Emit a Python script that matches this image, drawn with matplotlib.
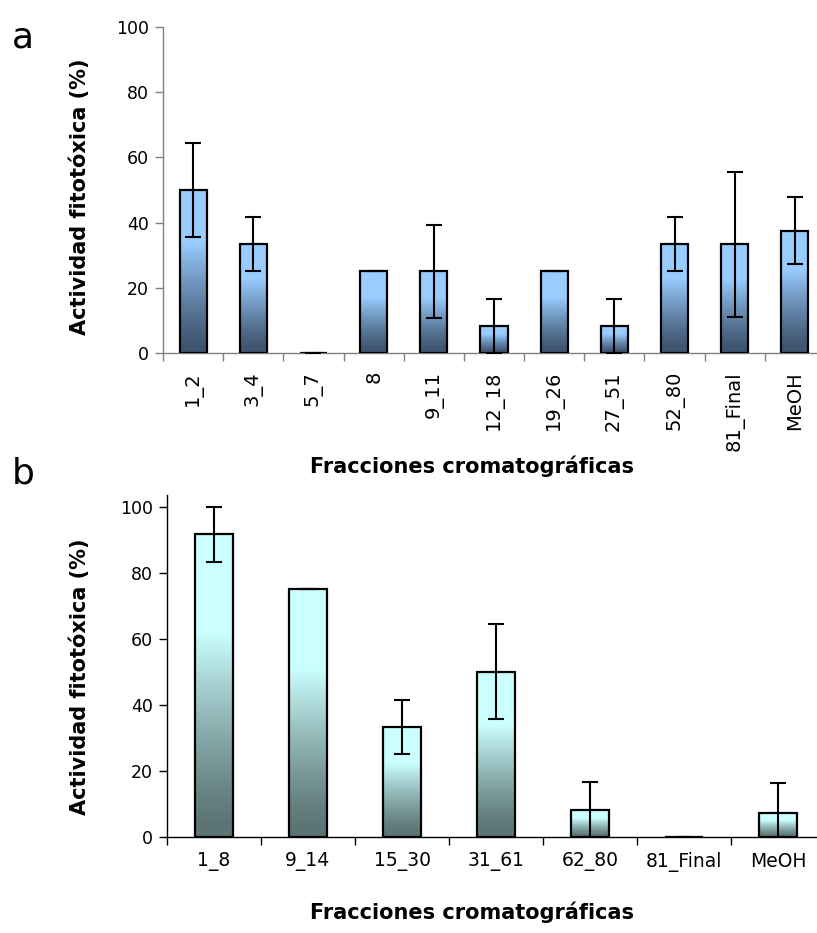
import numpy as np
import matplotlib
matplotlib.use("Agg")
import matplotlib.pyplot as plt
from matplotlib.colors import LinearSegmentedColormap

# ---- data ----
cats_a = ["1_2", "3_4", "5_7", "8", "9_11", "12_18", "19_26", "27_51", "52_80", "81_Final", "MeOH"]
vals_a = [50.0, 33.3, 0.0, 25.0, 25.0, 8.3, 25.0, 8.3, 33.3, 33.3, 37.5]
errs_a = [14.4, 8.3, 0.0, 0.0, 14.4, 8.3, 0.0, 8.3, 8.3, 22.2, 10.2]

cats_b = ["1_8", "9_14", "15_30", "31_61", "62_80", "81_Final", "MeOH"]
vals_b = [91.7, 75.0, 33.3, 50.0, 8.3, 0.0, 7.3]
errs_b = [8.3, 0.0, 8.3, 14.4, 8.3, 0.0, 9.1]

ylabel = "Actividad fitotóxica (%)"
xlabel = "Fracciones cromatográficas"

plt.rcParams['font.family'] = ['DejaVu Sans']

W, H = 817, 933
fig = plt.figure(figsize=(W / 100, H / 100), dpi=100)


def px_axes(left, right, top, bottom):
    return fig.add_axes([left / W, 1 - bottom / H, (right - left) / W, (bottom - top) / H])


def gradient_bars(ax, bars, c_top, c_bot):
    cmap = LinearSegmentedColormap.from_list("g", [c_bot, c_top], N=256)
    t = np.linspace(0, 1, 256).reshape(-1, 1)
    grad = np.clip((t - 0.03) / 0.65, 0, 1) ** 1.25
    for p in bars.patches:
        x0, y0 = p.get_x(), p.get_y()
        w, h = p.get_width(), p.get_height()
        if h <= 0:
            continue
        ax.imshow(grad, extent=(x0, x0 + w, y0, y0 + h), origin="lower",
                  aspect="auto", cmap=cmap, vmin=0, vmax=1, zorder=1,
                  interpolation="bilinear")


def panel(ax, cats, vals, errs, width, c_top, c_bot, spine_col, ytop, rot, xfs, xpad):
    n = len(cats)
    x = np.arange(n)
    bars = ax.bar(x, vals, width=width, facecolor="none", edgecolor="black",
                  linewidth=1.6, zorder=3)
    gradient_bars(ax, bars, c_top, c_bot)
    ax.errorbar(x, vals, yerr=errs, fmt="none", ecolor="black", elinewidth=1.5,
                capsize=6, capthick=1.5, zorder=4)
    ax.set_xlim(-0.5, n - 0.5)
    ax.set_ylim(0, ytop)
    ax.set_yticks([0, 20, 40, 60, 80, 100])
    ax.set_xticks(x)
    ax.set_xticklabels(cats, rotation=rot, fontsize=xfs,
                       va="top", ha="center")
    ax.set_xticks(np.arange(-0.5, n, 1.0), minor=True)
    ax.tick_params(axis="x", which="major", length=0, pad=xpad)
    ax.tick_params(axis="x", which="minor", length=6, width=1.0, color=spine_col, direction="out")
    ax.tick_params(axis="y", which="major", length=6, width=1.0, color=spine_col,
                   labelsize=12.5, pad=4)
    for s in ["top", "right"]:
        ax.spines[s].set_visible(False)
    for s in ["left", "bottom"]:
        ax.spines[s].set_color(spine_col)
        ax.spines[s].set_linewidth(1.0)
    ax.set_facecolor("none")


ax1 = px_axes(163, 825, 27, 353)
panel(ax1, cats_a, vals_a, errs_a, 0.45, "#99CCFF", "#3F5570", "#808080", 100, 90, 14, 13)

ax2 = px_axes(167, 825, 495, 837)
panel(ax2, cats_b, vals_b, errs_b, 0.40, "#CCFFFF", "#5C7474", "black", 103.6, 0, 13.5, 11)

fig.text(472 / W, 1 - 466 / H, xlabel, ha="center", va="center", fontsize=15, fontweight="bold")
fig.text(472 / W, 1 - 912 / H, xlabel, ha="center", va="center", fontsize=15, fontweight="bold")
fig.text(80 / W, 1 - 197 / H, ylabel, ha="center", va="center", rotation=90, fontsize=15, fontweight="bold")
fig.text(80 / W, 1 - 677 / H, ylabel, ha="center", va="center", rotation=90, fontsize=15, fontweight="bold")
fig.text(12 / W, 1 - 48 / H, "a", ha="left", va="baseline", fontsize=26)
fig.text(12 / W, 1 - 483 / H, "b", ha="left", va="baseline", fontsize=26)

fig.savefig("out.png", dpi=100, facecolor="white")
